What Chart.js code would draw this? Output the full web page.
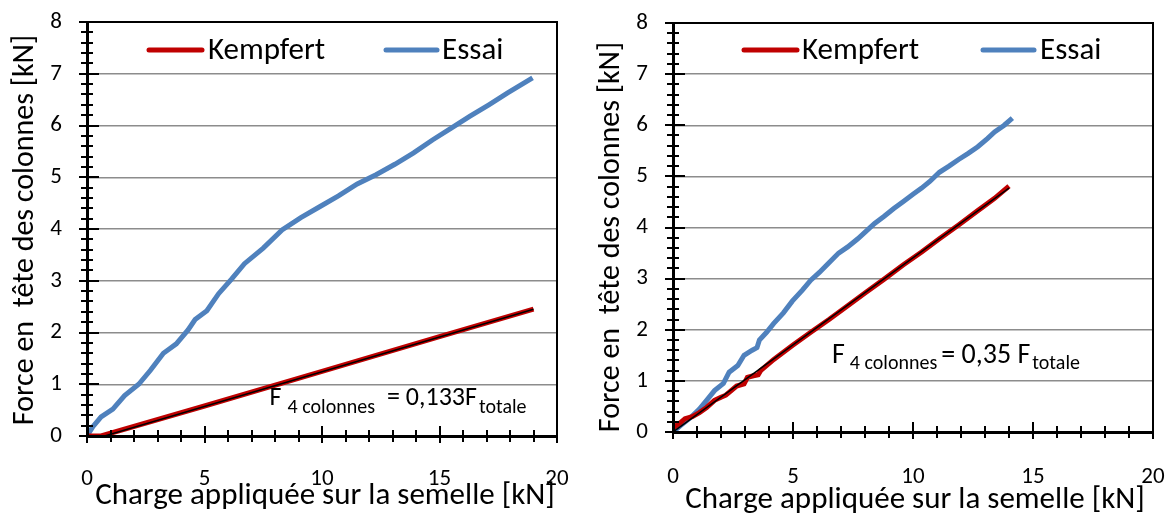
<!DOCTYPE html>
<html>
<head>
<meta charset="utf-8">
<script src="https://cdn.jsdelivr.net/npm/chart.js@4/dist/chart.umd.min.js"></script>
<style>
html,body{margin:0;padding:0;background:#fff;width:1169px;height:516px;overflow:hidden;}
#w1{position:absolute;left:0;top:0;width:585px;height:516px;}
#w2{position:absolute;left:585px;top:0;width:584px;height:516px;}
</style>
</head>
<body>
<div id="w1"><canvas id="c1" width="585" height="516"></canvas></div>
<div id="w2"><canvas id="c2" width="584" height="516"></canvas></div>
<script>
const xTicks = [0, 5, 10, 15, 20];
const yTicks = [0, 1, 2, 3, 4, 5, 6, 7, 8];
const xMinorTicks = [0,1,2,3,4,5,6,7,8,9,10,11,12,13,14,15,16,17,18,19,20];
const yMinorTicks = [0,0.2,0.4,0.6,0.8,1,1.2,1.4,1.6,1.8,2,2.2,2.4,2.6,2.8,3,3.2,3.4,3.6,3.8,4,4.2,4.4,4.6,4.8,5,5.2,5.4,5.6,5.8,6,6.2,6.4,6.6,6.8,7,7.2,7.4,7.6,7.8,8];
const seriesNames = ["Kempfert", "Essai"];
const xTitle = "Charge appliquée sur la semelle [kN]";
const yTitle = "Force en  tête des colonnes [kN]";

const leftKempfert = [[0,0],[0.6,0],[5,0.58],[10,1.25],[15,1.92],[19,2.45]];
const leftFit = [[0.75,0],[19,2.45]];
const leftEssai = [[0,0],[0.25,0.18],[0.6,0.37],[1.1,0.52],[1.6,0.78],[2.2,1.0],[2.7,1.27],[3.25,1.6],[3.5,1.68],[3.8,1.78],[4.3,2.05],[4.6,2.25],[5.1,2.42],[5.6,2.75],[6.15,3.03],[6.7,3.33],[7.5,3.63],[8.3,3.98],[9.1,4.22],[9.9,4.43],[10.7,4.64],[11.5,4.87],[12.3,5.05],[13.1,5.25],[13.9,5.47],[14.7,5.72],[15.5,5.95],[16.3,6.18],[17.1,6.40],[17.9,6.63],[18.96,6.92]];
const leftNote = {F:"F", sub:"4 colonnes", eq:"= 0,133F", sub2:"totale"};

const rightKempfert = [[0,0.08],[0.3,0.18],[0.5,0.26],[0.8,0.3],[1.1,0.38],[1.4,0.48],[1.73,0.62],[2.0,0.68],[2.2,0.72],[2.4,0.8],[2.65,0.9],[2.96,0.94],[3.1,1.07],[3.35,1.1],[3.55,1.12],[3.65,1.2],[4.2,1.42],[5.0,1.7],[5.74,1.95],[6.5,2.2],[7.28,2.47],[8.0,2.72],[8.8,2.99],[9.6,3.27],[10.36,3.52],[11.1,3.78],[11.9,4.05],[12.7,4.33],[13.4,4.57],[14.0,4.81]];
const rightFit = [[0,0],[14,4.77]];
const rightEssai = [[0,0],[0.3,0.12],[0.7,0.27],[1.1,0.45],[1.4,0.62],[1.73,0.81],[2.1,0.95],[2.34,1.17],[2.7,1.3],[2.96,1.5],[3.3,1.6],[3.5,1.65],[3.6,1.8],[3.9,1.95],[4.19,2.12],[4.6,2.33],[4.97,2.56],[5.4,2.78],[5.74,2.97],[6.1,3.12],[6.5,3.31],[6.9,3.5],[7.28,3.62],[7.7,3.78],[8.05,3.93],[8.4,4.08],[8.8,4.22],[9.2,4.37],[9.6,4.51],[10,4.65],[10.36,4.77],[10.7,4.9],[11.1,5.08],[11.5,5.2],[11.9,5.33],[12.3,5.45],[12.7,5.58],[13.1,5.74],[13.4,5.87],[13.8,6.0],[14.14,6.14]];
const rightNote = {F:"F", sub:"4 colonnes", eq:"= 0,35 F", sub2:"totale"};

const FONT = 'Carlito, Lato, "Open Sans", sans-serif';
const RED = '#C00000';
const BLUE = '#4F81BD';

const toPts = a => a.map(p => ({x:p[0], y:p[1]}));

const decor = {
  id: 'decor',
  afterDraw(chart, args, o) {
    const ctx = chart.ctx;
    const xs = chart.scales.x, ys = chart.scales.y;
    const L = Math.round(xs.getPixelForValue(0)), R = Math.round(xs.getPixelForValue(20));
    const T = Math.round(ys.getPixelForValue(8)), B = Math.round(ys.getPixelForValue(0));
    ctx.save();
    ctx.fillStyle = '#000000';
    // frame (filled rectangles)
    ctx.fillRect(L, T - 1, R - L + 1, 2);          // top
    ctx.fillRect(R - 1, T - 1, 2, B - T + 2);      // right
    ctx.fillRect(L - 1, T - 1, 3, B - T + 3);      // left axis
    ctx.fillRect(L - 1, B - 1, R - L + 2, 3);      // bottom axis
    // crossing tick marks
    xMinorTicks.forEach(v => {
      const px = Math.round(xs.getPixelForValue(v));
      const major = v % 5 === 0;
      const up = major ? 10 : 6, dn = major ? 7 : 6;
      ctx.fillRect(px - 1, B - up, 2, up + dn);
    });
    yMinorTicks.forEach((v, i) => {
      const py = Math.round(ys.getPixelForValue(v));
      const major = i % 5 === 0;
      const lf = major ? 8 : 6, rt = major ? 12 : 6;
      ctx.fillRect(L - lf, py - 1, lf + rt, 2);
    });
    // titles
    ctx.textAlign = 'center';
    ctx.textBaseline = 'middle';
    ctx.font = '31px ' + FONT;
    ctx.fillText(xTitle, (L + R) / 2 + o.xTitleDx, o.xTitleY);
    ctx.save();
    ctx.font = '30px ' + FONT;
    ctx.translate(o.yTitleX, o.yTitleY);
    ctx.rotate(-Math.PI / 2);
    ctx.fillText(yTitle, 0, 0);
    ctx.restore();
    // legend
    const ds = chart.data.datasets;
    ctx.textAlign = 'left';
    ctx.font = '31px ' + FONT;
    o.legend.forEach((Lg, i) => {
      ctx.strokeStyle = ds[i].borderColor;
      ctx.lineCap = 'round';
      ctx.lineWidth = 5;
      ctx.beginPath();
      ctx.moveTo(Lg.x0, o.legendY); ctx.lineTo(Lg.x1, o.legendY);
      ctx.stroke();
      ctx.fillText(ds[i].label, Lg.tx, o.legendY + 1);
    });
    // annotation
    const n = o.note;
    let x = xs.getPixelForValue(n.x);
    const by = ys.getPixelForValue(n.y);
    ctx.textBaseline = 'alphabetic';
    const big = n.big + 'px ' + FONT, small = n.small + 'px ' + FONT;
    n.parts.forEach(p => {
      x += p.gap || 0;
      ctx.font = p.small ? small : big;
      ctx.fillText(p.t, x, by + (p.small ? n.subDy : 0));
      x += ctx.measureText(p.t).width;
    });
    ctx.restore();
  }
};

function zeroPad(s) { s.paddingTop = 0; s.paddingBottom = 0; s.paddingLeft = 0; s.paddingRight = 0; }

function makeChart(id, kemp, fit, essai, cfg) {
  return new Chart(document.getElementById(id), {
    type: 'scatter',
    data: {
      datasets: [
        {label: seriesNames[0], data: toPts(kemp), showLine: true, borderColor: RED, backgroundColor: RED, borderWidth: 5, pointRadius: 0, order: 2},
        {label: seriesNames[1], data: toPts(essai), showLine: true, borderColor: BLUE, backgroundColor: BLUE, borderWidth: 5, pointRadius: 0, order: 3},
        {label: 'fit', data: toPts(fit), showLine: true, borderColor: '#000', borderWidth: 1.5, pointRadius: 0, order: 1}
      ]
    },
    options: {
      responsive: false,
      animation: false,
      events: [],
      layout: {padding: {top: cfg.top, right: cfg.right, left: 0, bottom: 0}},
      plugins: {
        legend: {display: false},
        tooltip: {enabled: false},
        decor: cfg.decor
      },
      scales: {
        x: {
          type: 'linear', min: 0, max: 20,
          afterBuildTicks: s => { s.ticks = xTicks.map(v => ({value: v})); },
          afterFit: s => { s.height = cfg.xh; zeroPad(s); },
          grid: {display: false},
          border: {display: false},
          ticks: {padding: cfg.xpad, color: '#000', font: {size: 23, family: FONT}, maxRotation: 0}
        },
        y: {
          type: 'linear', min: 0, max: 8,
          afterBuildTicks: s => { s.ticks = yTicks.map(v => ({value: v})); },
          afterFit: s => { s.width = cfg.yw; zeroPad(s); },
          grid: {display: true, color: '#8c8c8c', lineWidth: 1.5, drawTicks: false},
          border: {display: false},
          ticks: {padding: 25, color: '#000', font: {size: 23, family: FONT}}
        }
      }
    },
    plugins: [decor]
  });
}

makeChart('c1', leftKempfert, leftFit, leftEssai, {
  top: 22, right: 28, xh: 80, yw: 87, xpad: 21,
  decor: {
    xTitleDx: 3, xTitleY: 496, yTitleX: 25, yTitleY: 230,
    legendY: 50,
    legend: [{x0:149, x1:202, tx:208}, {x0:386, x1:437, tx:442}],
    note: {x: 7.77, y: 0.6, big: 26, small: 20, subDy: 8, parts: [
      {t: leftNote.F}, {t: leftNote.sub, small: true, gap: 6}, {t: leftNote.eq, gap: 12}, {t: leftNote.sub2, small: true, gap: 2}
    ]}
  }
});

makeChart('c2', rightKempfert, rightFit, rightEssai, {
  top: 23, right: 16, xh: 84, yw: 88, xpad: 23,
  decor: {
    xTitleDx: 2, xTitleY: 500, yTitleX: 26, yTitleY: 237,
    legendY: 50,
    legend: [{x0:159, x1:212, tx:217}, {x0:398, x1:449, tx:455}],
    note: {x: 6.625, y: 1.35, big: 28, small: 20, subDy: 6, parts: [
      {t: rightNote.F}, {t: rightNote.sub, small: true, gap: 5}, {t: rightNote.eq, gap: 4}, {t: rightNote.sub2, small: true, gap: 2}
    ]}
  }
});
</script>
</body>
</html>
